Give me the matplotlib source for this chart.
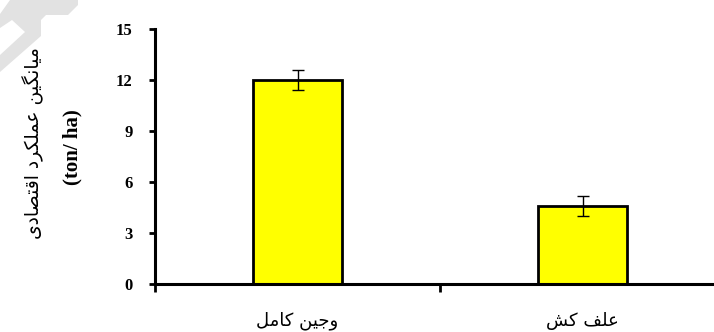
import numpy as np
import matplotlib.pyplot as plt
from matplotlib.patches import Polygon

# mean economic yield (ton/ha) with standard error
# labels are given as Arabic presentation forms in visual order,
# since matplotlib does not shape right-to-left text
categories = ["\uFEDE\uFEE3\uFE8E\uFB90 \uFEE6\uFBFF\uFE9F\uFEED",  # وجین کامل
              "\uFEB6\uFB90 \uFED2\uFEE0\uFECB"]                    # علف کش
means = [12.0, 4.6]
errors = [0.6, 0.6]
yticks = [0, 3, 6, 9, 12, 15]
ylabel_fa = ("\uFBFC\uFEA9\uFE8E\uFEBC\uFE98\uFED7\uFE8D "
             "\uFEA9\uFEAE\uFB91\uFEE0\uFEE4\uFECB "
             "\uFEE6\uFBFF\uFB95\uFEE7\uFE8E\uFBFF\uFEE3")  # میانگین عملکرد اقتصادی
ylabel_unit = "(ton/ ha)"

W, H = 714, 332
fig = plt.figure(figsize=(W / 100, H / 100), dpi=100)
ax = fig.add_axes([155 / W, 48 / H, 570 / W, 255 / H])

x = np.arange(len(categories)) + 0.5
ax.bar(x, means, width=0.31, color="#ffff00", edgecolor="black", linewidth=2.0,
       yerr=errors, capsize=4.3, error_kw=dict(elinewidth=1.0, capthick=1.0, ecolor="black"))

ax.set_xlim(0, 2)
ax.set_ylim(0, 15)
ax.set_yticks(yticks)
ax.set_yticklabels([str(t) for t in yticks], fontfamily="Liberation Serif",
                   fontweight="bold", fontsize=12)
ax.tick_params(axis="y", direction="out", length=4, width=2, pad=12)

ax.set_xticks([0, 1, 2])
ax.set_xticklabels([])
ax.tick_params(axis="x", which="major", direction="out", length=6, width=2)
ax.set_xticks(x, minor=True)
ax.set_xticklabels(categories, minor=True, fontfamily="DejaVu Sans", fontsize=13)
ax.tick_params(axis="x", which="minor", length=0, pad=20)

for side in ["top", "right"]:
    ax.spines[side].set_visible(False)
for side in ["left", "bottom"]:
    ax.spines[side].set_linewidth(2.2)

fig.text(33 / W, 1 - 143 / H, ylabel_fa, rotation=90, ha="center", va="center",
         fontfamily="DejaVu Sans", fontsize=13.5)
fig.text(72 / W, 1 - 147 / H, ylabel_unit, rotation=90, ha="center", va="center",
         fontfamily="Liberation Serif", fontweight="bold", fontsize=15)

# faint grey mark in the top-left corner
pts = [(10, 0), (78, 0), (78, 5), (68, 15), (46, 15), (41, 20), (41, 36),
       (0, 72), (0, 55), (25, 32), (12, 20), (0, 28), (0, 14)]
fig.patches.append(Polygon([(px / W, 1 - py / H) for px, py in pts], closed=True,
                           transform=fig.transFigure, facecolor="#e2e2e2",
                           edgecolor="none", zorder=-1))

fig.savefig("out.png", dpi=100)
